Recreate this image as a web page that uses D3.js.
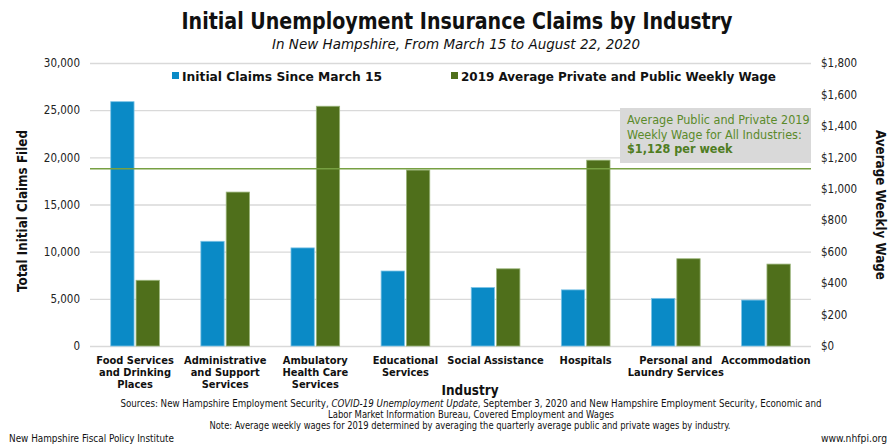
<!DOCTYPE html>
<html>
<head>
<meta charset="utf-8">
<script src="https://cdn.jsdelivr.net/npm/d3@7"></script>
<style>
  html, body { margin: 0; padding: 0; background: #fff; }
  svg { display: block; }
  text { font-family: "DejaVu Sans", Verdana, sans-serif; font-stretch: condensed; }
</style>
</head>
<body>
<svg id="chart" width="896" height="444"></svg>
<script>
// ---- data ----
const categories = [
  ["Food Services", "and Drinking", "Places"],
  ["Administrative", "and Support", "Services"],
  ["Ambulatory", "Health Care", "Services"],
  ["Educational", "Services"],
  ["Social Assistance"],
  ["Hospitals"],
  ["Personal and", "Laundry Services"],
  ["Accommodation"]
];
const initialClaims = [25900, 11100, 10400, 7950, 6200, 5950, 5050, 4870];
const weeklyWage = [418, 979, 1525, 1119, 491, 1182, 555, 521];
const allIndustryWage = 1128;
const leftTicks = [0, 5000, 10000, 15000, 20000, 25000, 30000];
const rightTicks = [0, 200, 400, 600, 800, 1000, 1200, 1400, 1600, 1800];
const seriesNames = ["Initial Claims Since March 15", "2019 Average Private and Public Weekly Wage"];
const annotationLines = ["Average Public and Private 2019", "Weekly Wage for All Industries:", "$1,128 per week"];

// ---- layout ----
const svg = d3.select("#chart");
const plot = { left: 90, right: 811, top: 63, bottom: 346 };
const blue = "#0a8ac6", green = "#4f6f1b", grid = "#d9d9d9";

const yLeft = d3.scaleLinear().domain([0, 30000]).range([plot.bottom, plot.top]);
const yRight = d3.scaleLinear().domain([0, 1800]).range([plot.bottom, plot.top]);
const x = d3.scaleBand().domain(d3.range(categories.length)).range([plot.left, plot.right]).paddingInner(0.46).paddingOuter(0.23);
const xs = d3.scaleBand().domain([0, 1]).range([0, x.bandwidth()]).paddingInner(0.08);

// gridlines + left axis
const gl = svg.append("g").attr("transform", `translate(${plot.left},0)`)
  .call(d3.axisLeft(yLeft).tickValues(leftTicks).tickFormat(d3.format(",")).tickSize(-(plot.right - plot.left)).tickPadding(10));
gl.select(".domain").remove();
gl.selectAll(".tick line").attr("stroke", grid).attr("stroke-width", 1.3);
gl.selectAll(".tick text").attr("font-size", 11.5).attr("fill", "#222").attr("font-family", "DejaVu Sans").style("font-stretch", "condensed");

// right axis
const gr = svg.append("g").attr("transform", `translate(${plot.right},0)`)
  .call(d3.axisRight(yRight).tickValues(rightTicks).tickFormat(d => "$" + d3.format(",")(d)).tickSize(0).tickPadding(10));
gr.select(".domain").remove();
gr.selectAll(".tick text").attr("font-size", 11.5).attr("fill", "#222");

// bars
const groups = svg.append("g").selectAll("g").data(categories).join("g")
  .attr("transform", (d, i) => `translate(${x(i)},0)`);
groups.append("rect")
  .attr("x", xs(0)).attr("width", xs.bandwidth())
  .attr("y", (d, i) => yLeft(initialClaims[i]))
  .attr("height", (d, i) => plot.bottom - yLeft(initialClaims[i]))
  .attr("fill", blue).attr("stroke", "#7cc3e6").attr("stroke-width", 0.8);
groups.append("rect")
  .attr("x", xs(1)).attr("width", xs.bandwidth())
  .attr("y", (d, i) => yRight(weeklyWage[i]))
  .attr("height", (d, i) => plot.bottom - yRight(weeklyWage[i]))
  .attr("fill", green).attr("stroke", "#9ab57a").attr("stroke-width", 0.8);

// annotation box
svg.append("rect").attr("x", 620).attr("y", 108).attr("width", 191).attr("height", 55).attr("fill", "#d9d9d9");
const ann = svg.append("text").attr("x", 627).attr("fill", "#5b8a2b").attr("font-size", 12.5);
annotationLines.forEach((t, i) => {
  ann.append("tspan").attr("x", 627).attr("y", 124 + i * 14.5).text(t)
    .attr("font-weight", i === 2 ? "bold" : "normal").attr("fill", i === 2 ? "#4f7d1f" : "#5b8a2b");
});

// average line
svg.append("line").attr("x1", plot.left).attr("x2", plot.right)
  .attr("y1", yRight(allIndustryWage)).attr("y2", yRight(allIndustryWage))
  .attr("stroke", "#77a042").attr("stroke-width", 1.5);

// category labels
const xl = svg.append("g");
categories.forEach((lines, i) => {
  const cx = x(i) + x.bandwidth() / 2;
  const t = xl.append("text").attr("text-anchor", "middle").attr("font-size", 11).attr("font-weight", "bold").attr("fill", "#111");
  lines.forEach((l, j) => t.append("tspan").attr("x", cx).attr("y", 364 + j * 12).text(l));
});

// legend
const legend = [
  { x: 172, color: blue, name: seriesNames[0], w: 200 },
  { x: 451, color: green, name: seriesNames[1], w: 315 }
];
legend.forEach(l => {
  svg.append("rect").attr("x", l.x).attr("y", 72).attr("width", 7).attr("height", 7).attr("fill", l.color);
  svg.append("text").attr("x", l.x + 10).attr("y", 81).attr("font-size", 13).attr("font-weight", "bold").attr("fill", "#111")
    .attr("textLength", l.w).attr("lengthAdjust", "spacingAndGlyphs").text(l.name);
});

// titles
svg.append("text").attr("x", 457).attr("y", 29).attr("text-anchor", "middle").attr("font-size", 23).attr("font-weight", "bold").attr("fill", "#111")
  .attr("textLength", 551).attr("lengthAdjust", "spacingAndGlyphs").text("Initial Unemployment Insurance Claims by Industry");
svg.append("text").attr("x", 456).attr("y", 49).attr("text-anchor", "middle").attr("font-size", 14.5).attr("font-style", "italic").attr("fill", "#111")
  .attr("textLength", 368).attr("lengthAdjust", "spacingAndGlyphs").text("In New Hampshire, From March 15 to August 22, 2020");

// axis titles
svg.append("text").attr("transform", "translate(27,211) rotate(-90)").attr("text-anchor", "middle").attr("font-size", 14).attr("font-weight", "bold").attr("fill", "#111")
  .attr("textLength", 162).attr("lengthAdjust", "spacingAndGlyphs").text("Total Initial Claims Filed");
svg.append("text").attr("transform", "translate(876,205) rotate(90)").attr("text-anchor", "middle").attr("font-size", 14).attr("font-weight", "bold").attr("fill", "#111")
  .attr("textLength", 150).attr("lengthAdjust", "spacingAndGlyphs").text("Average Weekly Wage");
svg.append("text").attr("x", 470).attr("y", 395).attr("text-anchor", "middle").attr("font-size", 14).attr("font-weight", "bold").attr("fill", "#111")
  .attr("textLength", 57).attr("lengthAdjust", "spacingAndGlyphs").text("Industry");

// sources / notes
const src1 = svg.append("text").attr("x", 471).attr("y", 407).attr("text-anchor", "middle").attr("font-size", 10).attr("fill", "#111")
  .attr("textLength", 701).attr("lengthAdjust", "spacingAndGlyphs");
src1.append("tspan").text("Sources: New Hampshire Employment Security, ");
src1.append("tspan").attr("font-style", "italic").text("COVID-19 Unemployment Update");
src1.append("tspan").text(", September 3, 2020 and New Hampshire Employment Security, Economic and");
svg.append("text").attr("x", 471).attr("y", 417.5).attr("text-anchor", "middle").attr("font-size", 10).attr("fill", "#111")
  .attr("textLength", 286).attr("lengthAdjust", "spacingAndGlyphs").text("Labor Market Information Bureau, Covered Employment and Wages");
svg.append("text").attr("x", 470).attr("y", 428.5).attr("text-anchor", "middle").attr("font-size", 10).attr("fill", "#111")
  .attr("textLength", 521).attr("lengthAdjust", "spacingAndGlyphs").text("Note: Average weekly wages for 2019 determined by averaging the quarterly average public and private wages by industry.");
svg.append("text").attr("x", 9).attr("y", 442).attr("font-size", 10.5).attr("fill", "#111")
  .attr("textLength", 165).attr("lengthAdjust", "spacingAndGlyphs").text("New Hampshire Fiscal Policy Institute");
svg.append("text").attr("x", 887).attr("y", 442).attr("text-anchor", "end").attr("font-size", 10.5).attr("fill", "#111")
  .attr("textLength", 66).attr("lengthAdjust", "spacingAndGlyphs").text("www.nhfpi.org");
</script>
</body>
</html>
